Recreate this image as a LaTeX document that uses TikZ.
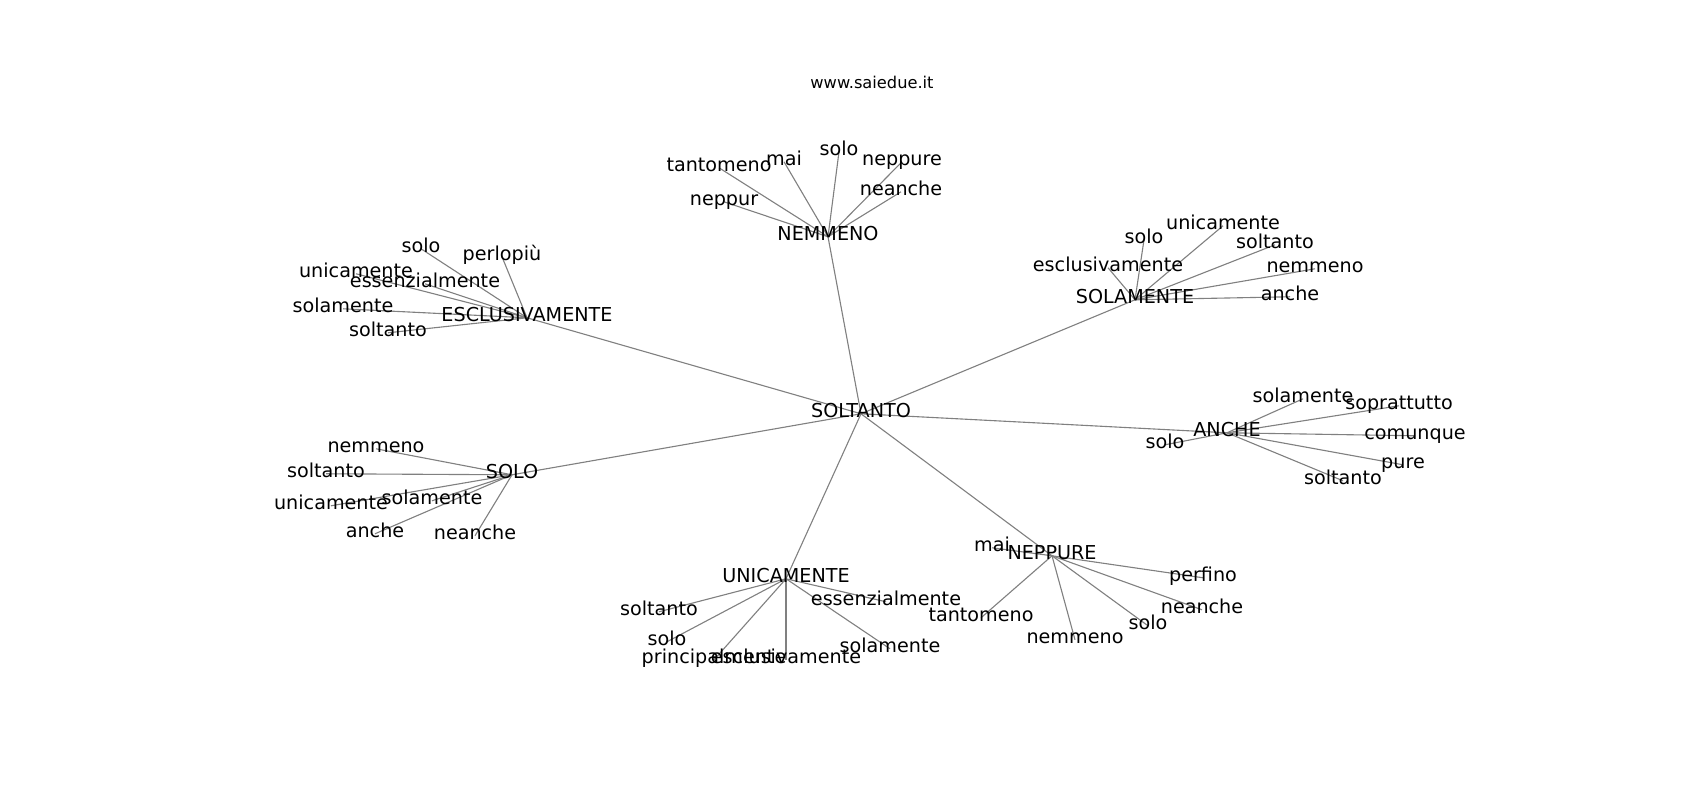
\documentclass[tikz,border=0pt]{standalone}
\usepackage{fontspec}
\setmainfont{DejaVu Sans}
\usetikzlibrary{backgrounds}
\begin{document}
\begin{tikzpicture}[x=0.72pt, y=-0.72pt,
  word/.style={inner sep=0pt, anchor=center, yshift=-2pt,
    font=\fontsize{13.8}{16}\selectfont,
    text height=0.75em, text depth=0.24em},
  hub/.style={word},
  edge/.style={black!50, line width=0.8pt}]
  \useasboundingbox (0,0) rectangle (1700,800);
  \node[inner sep=0pt, font=\fontsize{11.7}{14}\selectfont] (title) at (872,82) {www.saiedue.it};
  % hubs
  \node[hub] (sol) at (861,411) {SOLTANTO};
  \node[hub] (nem) at (828,234) {NEMMENO};
  \node[hub] (esc) at (527,315) {ESCLUSIVAMENTE};
  \node[hub] (sla) at (1135,297) {SOLAMENTE};
  \node[hub] (anc) at (1227,430) {ANCHE};
  \node[hub] (slo) at (512,472) {SOLO};
  \node[hub] (uni) at (786,576) {UNICAMENTE};
  \node[hub] (nep) at (1052,553) {NEPPURE};
  % leaves
  \foreach \i/\x/\y/\t in {1/719/165/tantomeno, 2/784/159/mai, 3/839/149/solo,
      4/902/159/neppure, 5/901/189/neanche, 6/724/199/neppur}
    \node[word] (nem\i) at (\x,\y) {\t};
  \foreach \i/\x/\y/\t in {1/421/246/solo, 2/502/254/perlopiù, 3/356/271/unicamente,
      4/425/281/essenzialmente, 5/343/306/solamente, 6/388/330/soltanto}
    \node[word] (esc\i) at (\x,\y) {\t};
  \foreach \i/\x/\y/\t in {1/1144/237/solo, 2/1223/223/unicamente, 3/1275/242/soltanto,
      4/1108/265/esclusivamente, 5/1315/266/nemmeno, 6/1290/294/anche}
    \node[word] (sla\i) at (\x,\y) {\t};
  \foreach \i/\x/\y/\t in {1/1303/396/solamente, 2/1399/403/soprattutto, 3/1415/433/comunque,
      4/1403/462/pure, 5/1343/478/soltanto, 6/1165/442/solo}
    \node[word] (anc\i) at (\x,\y) {\t};
  \foreach \i/\x/\y/\t in {1/376/446/nemmeno, 2/326/471/soltanto, 3/331/503/unicamente,
      4/432/498/solamente, 5/375/531/anche, 6/475/533/neanche}
    \node[word] (slo\i) at (\x,\y) {\t};
  \foreach \i/\x/\y/\t in {1/659/609/soltanto, 2/886/599/essenzialmente, 3/667/639/solo,
      4/714/657/principalmente, 5/786/657/esclusivamente, 6/890/646/solamente}
    \node[word] (uni\i) at (\x,\y) {\t};
  \foreach \i/\x/\y/\t in {1/992/545/mai, 2/1203/575/perfino, 3/1202/607/neanche,
      4/1148/623/solo, 5/1075/637/nemmeno, 6/981/615/tantomeno}
    \node[word] (nep\i) at (\x,\y) {\t};
  % edges
  \begin{scope}[on background layer]
    \foreach \h in {nem,esc,sla,anc,slo,uni,nep}
      {
        \draw[edge] (sol.center) -- (\h.center);
        \foreach \i in {1,...,6}
          \draw[edge] (\h.center) -- (\h\i.center);
      }
  \end{scope}
\end{tikzpicture}
\end{document}
